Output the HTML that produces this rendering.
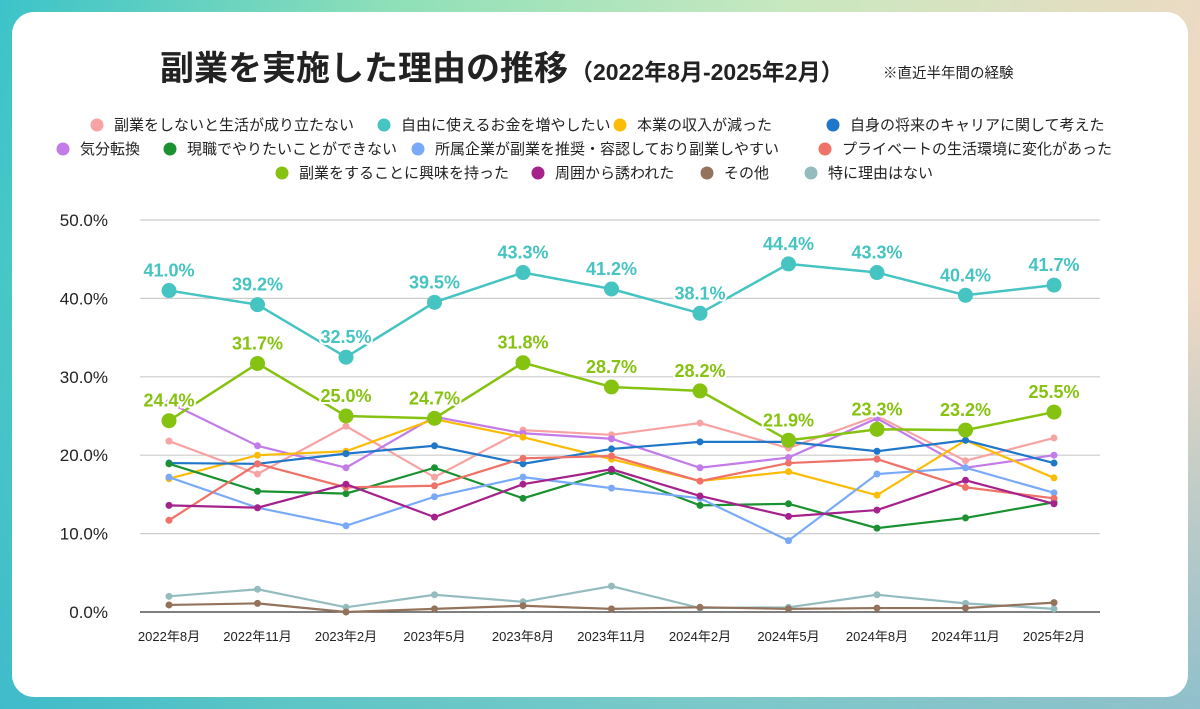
<!DOCTYPE html>
<html><head><meta charset="utf-8">
<style>
body{margin:0;width:1200px;height:709px;overflow:hidden;font-family:"Liberation Sans","Noto Sans CJK JP",sans-serif;}
#bg{position:absolute;left:0;top:0;width:1200px;height:709px;background:linear-gradient(100deg,#3cc3c9 0%,#8fe0b8 30%,#c9e8c0 60%,#f6d6c4 100%);}
#bg2{position:absolute;left:0;top:0;width:1200px;height:709px;background:linear-gradient(180deg,rgba(255,255,255,0) 40%,rgba(40,170,210,0.5) 100%);}
#card{position:absolute;left:12px;top:12px;width:1176px;height:685px;background:#fff;border-radius:22px;}
svg{position:absolute;left:0;top:0;}
</style></head><body>
<div id="bg"></div>
<div id="bg2"></div>
<div id="card"></div>
<svg id="chart" width="1200" height="709"></svg>
<script>
const categories=["2022年8月","2022年11月","2023年2月","2023年5月","2023年8月","2023年11月","2024年2月","2024年5月","2024年8月","2024年11月","2025年2月"];
const yTicks=[0,10,20,30,40,50];
const seriesNames=["副業をしないと生活が成り立たない","自由に使えるお金を増やしたい","本業の収入が減った","自身の将来のキャリアに関して考えた","気分転換","現職でやりたいことができない","所属企業が副業を推奨・容認しており副業しやすい","プライベートの生活環境に変化があった","副業をすることに興味を持った","周囲から誘われた","その他","特に理由はない"];
const seriesColors=["#f7a3a3","#45c4c2","#fbbc05","#1f77c9","#c27be8","#1b9232","#7aaaf7","#ef7167","#86c210","#a5228c","#94735c","#94bcbf"];
const sPink=[21.8,17.6,23.7,17.2,23.2,22.6,24.1,20.9,25.0,19.3,22.2];
const sTeal=[41.0,39.2,32.5,39.5,43.3,41.2,38.1,44.4,43.3,40.4,41.7];
const sYellow=[17.0,20.0,20.5,24.6,22.3,19.5,16.7,17.9,14.9,21.9,17.1];
const sBlue=[19.0,18.9,20.2,21.2,18.9,20.8,21.7,21.7,20.5,21.9,19.0];
const sPurple=[26.7,21.2,18.4,24.9,22.8,22.1,18.4,19.7,24.7,18.4,20.0];
const sGreen=[18.9,15.4,15.1,18.4,14.5,17.9,13.6,13.8,10.7,12.0,14.0];
const sLightBlue=[17.2,13.3,11.0,14.7,17.2,15.8,14.5,9.1,17.6,18.4,15.2];
const sSalmon=[11.7,18.9,15.9,16.1,19.6,19.9,16.7,19.0,19.5,15.9,14.5];
const sLime=[24.4,31.7,25.0,24.7,31.8,28.7,28.2,21.9,23.3,23.2,25.5];
const sMagenta=[13.6,13.3,16.3,12.1,16.3,18.2,14.8,12.2,13.0,16.8,13.8];
const sBrown=[0.9,1.1,0.0,0.4,0.8,0.4,0.6,0.4,0.5,0.5,1.2];
const sGray=[2.0,2.9,0.6,2.2,1.3,3.3,0.5,0.6,2.2,1.1,0.4];
const allSeries=[sPink,sTeal,sYellow,sBlue,sPurple,sGreen,sLightBlue,sSalmon,sLime,sMagenta,sBrown,sGray];
const legendRows=[[0,1,2,3],[4,5,6,7],[8,9,10,11]];
const legendX=[[97,384,620,833],[63,170,418,825],[282,538,707,811]];

const NS="http://www.w3.org/2000/svg";
const svg=document.getElementById('chart');
function mk(tag,attrs,parent){const e=document.createElementNS(NS,tag);for(const k in attrs)e.setAttribute(k,attrs[k]);(parent||svg).appendChild(e);return e;}
const x=i=>169+i*(1054-169)/(categories.length-1);
const y=v=>612-v*(612-220)/50;

let t=mk('text',{x:160,y:80,'font-size':34,'font-weight':'bold',fill:'#222'});


t.innerHTML='副業を実施した理由の推移<tspan font-size="23" font-weight="bold" dx="2">（2022年8月-2025年2月）</tspan>';
t=mk('text',{x:883,y:78,'font-size':14.5,fill:'#222'});t.textContent='※直近半年間の経験';



legendRows.forEach((row,r)=>row.forEach((si,j)=>{
 const g=mk('g',{});
 
 
 const cx=legendX[r][j],cy=125+r*24;
 mk('circle',{cx:cx,cy:cy,r:6.5,fill:seriesColors[si]},g);
 const tx=mk('text',{x:cx+17,y:cy+5,'font-size':15,fill:'#222'},g);
 tx.textContent=seriesNames[si];
}));

yTicks.forEach(v=>{
 const l=mk('line',{x1:140,x2:1100,y1:y(v),y2:y(v),stroke:v===0?'#555':'#ccc','stroke-width':v===0?1.5:1.2});
 
 
 const tx=mk('text',{x:108,y:y(v)+6,'font-size':17,'text-anchor':'end',fill:'#222'});
 
 
 tx.textContent=v.toFixed(1)+'%';
});
categories.forEach((c,i)=>{
 const tx=mk('text',{x:x(i),y:641,'font-size':13,'text-anchor':'middle',fill:'#222'});
 
 
 tx.textContent=c;
});

const order=[11,10,0,4,2,3,5,6,7,9,8,1];
order.forEach(si=>{
 const data=allSeries[si];const big=(si===1||si===8);
 const g=mk('g',{});
 
 
 const pl=mk('polyline',{points:data.map((v,i)=>x(i)+','+y(v)).join(' '),fill:'none',stroke:seriesColors[si],'stroke-width':big?2.5:2.2},g);
 
 
 data.forEach((v,i)=>{
  const c=mk('circle',{cx:x(i),cy:y(v),r:big?7.5:3.5,fill:seriesColors[si]},g);
  
  
  if(big){
   const lb=mk('text',{x:x(i),y:y(v)-14,'font-size':18,'font-weight':'bold','text-anchor':'middle',fill:seriesColors[si],stroke:'#fff','stroke-width':4,'paint-order':'stroke','stroke-linejoin':'round'},g);
   
   
   lb.textContent=v.toFixed(1)+'%';
  }
 });
});
</script>
</body></html>
